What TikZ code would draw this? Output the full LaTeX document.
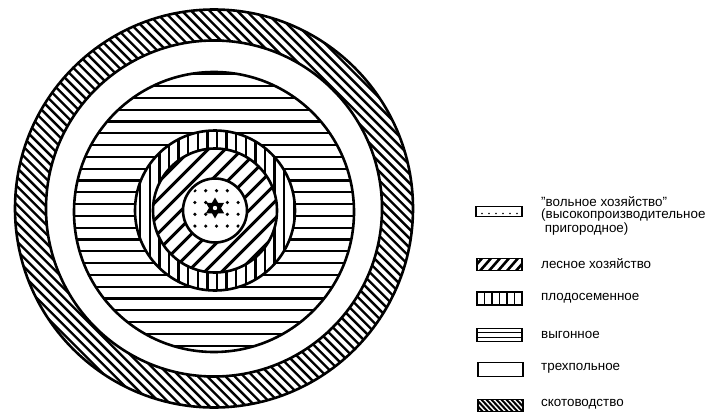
\documentclass[tikz,border=0pt]{standalone}
\usepackage{fontspec}
\setmainfont{Liberation Sans}
\begin{document}
\begin{tikzpicture}[x=1pt,y=-1pt,line cap=butt,
  ring/.style={line width=2.6pt},
  hatch/.style={line width=2.4pt},
  legbox/.style={draw,line width=1.5pt},
  legtext/.style={anchor=west,inner sep=0pt,font=\fontsize{13.4}{14}\selectfont,align=left}]
\useasboundingbox (0,0) rectangle (709,412);
\fill[white] (0,0) rectangle (709,412);
\coordinate (CO) at (214,208.5);
\coordinate (CS) at (214,212);
\coordinate (CI) at (215,210.5);
% outer ring: cattle breeding
\begin{scope}
  \clip (CO) circle (199);
  \foreach \k in {-36,...,36} \draw[hatch] (214+\k*9.2-250,-41.5) -- ++(500,500);
\end{scope}
\fill[white] (CO) circle (168);
% horizontal stripes
\begin{scope}
  \clip (CS) circle (140);
  \foreach \k in {-13,...,13} \draw[line width=2.2pt] (60,204+\k*11.8) -- (370,204+\k*11.8);
\end{scope}
% vertical stripes
\fill[white] (CI) circle (80);
\begin{scope}
  \clip (CI) circle (80);
  \foreach \k in {-9,...,9} \draw[line width=2.3pt] (217+\k*9.6,120) -- (217+\k*9.6,300);
\end{scope}
% diagonal stripes
\fill[white] (CI) circle (62);
\begin{scope}
  \clip (CI) circle (62);
  \foreach \k in {-10,...,10} \draw[line width=3pt] (215+\k*17-150,360.5) -- ++(300,-300);
\end{scope}
% dots
\fill[white] (CI) circle (32);
\begin{scope}
  \clip (CI) circle (29);
  \foreach \i in {-2,...,2}
    \foreach \j in {-2,...,1}
      {\pgfmathsetmacro\dx{\i*10.8}
       \pgfmathsetmacro\dy{(\j+0.5)*11.8}
       \pgfmathparse{(abs(\dx)<5 && abs(\dy)<8) ? 1 : 0}
       \ifnum\pgfmathresult=0
         \fill (216.5+\dx,208.4+\dy) circle (1.8);
       \fi}
\end{scope}
% star
\fill (215,208) +(90:10.5) -- +(210:10.5) -- +(330:10.5) -- cycle;
\fill (215,208) +(270:10.5) -- +(30:10.5) -- +(150:10.5) -- cycle;
\fill[white] (215,208) circle (2.2);
% outlines
\draw[ring] (CO) circle (199);
\draw[ring] (CO) circle (168);
\draw[ring] (CS) circle (140);
\draw[ring] (CI) circle (80);
\draw[ring] (CI) circle (62);
\draw[ring] (CI) circle (32);

% legend
% 1 dotted
\node[legbox,minimum width=46pt,minimum height=10pt,inner sep=0pt] (b1) at (499,211.7) {};
\foreach \k in {0,...,5} \fill (482+\k*7,213.5) circle (0.9);
\node[legtext] (t1a) at (541,202) {"вольное хозяйство"};
\node[legtext] (t1b) at (541,215.5) {(высокопроизводительное};
\node[legtext] (t1c) at (541,229) {\ пригородное)};
% 2 diagonal
\begin{scope}
  \clip (477,258.5) rectangle (522,270.5);
  \foreach \k in {0,...,6} \draw[line width=2.6pt] (470+\k*9,272) -- ++(14,-16);
\end{scope}
\node[legbox,minimum width=45pt,minimum height=12pt,inner sep=0pt] (b2) at (499.5,264.5) {};
\node[legtext] (t2) at (541,264) {лесное хозяйство};
% 3 vertical
\node[legbox,minimum width=45pt,minimum height=13pt,inner sep=0pt] (b3) at (499.5,298.3) {};
\foreach \k in {1,...,5} \draw[line width=1.4pt] (477+\k*7.5,291.8) -- (477+\k*7.5,304.8);
\node[legtext] (t3) at (541,298) {плодосеменное};
% 4 horizontal
\node[legbox,minimum width=45pt,minimum height=13pt,inner sep=0pt] (b4) at (499.5,335) {};
\foreach \k in {1,2} \draw[line width=1.2pt] (477,328.5+\k*4.3) -- (522,328.5+\k*4.3);
\node[legtext] (t4) at (541,335) {выгонное};
% 5 empty
\node[legbox,minimum width=45pt,minimum height=14pt,inner sep=0pt] (b5) at (500.5,369.5) {};
\node[legtext] (t5) at (541,368.5) {трехпольное};
% 6 back hatch
\begin{scope}
  \clip (478,399) rectangle (523,412);
  \foreach \k in {0,...,12} \draw[line width=2pt] (470+\k*5,398) -- ++(14,15);
\end{scope}
\node[legbox,minimum width=45pt,minimum height=12.5pt,inner sep=0pt] (b6) at (500.5,405.5) {};
\node[legtext] (t6) at (541,404) {скотоводство};
\end{tikzpicture}
\end{document}
